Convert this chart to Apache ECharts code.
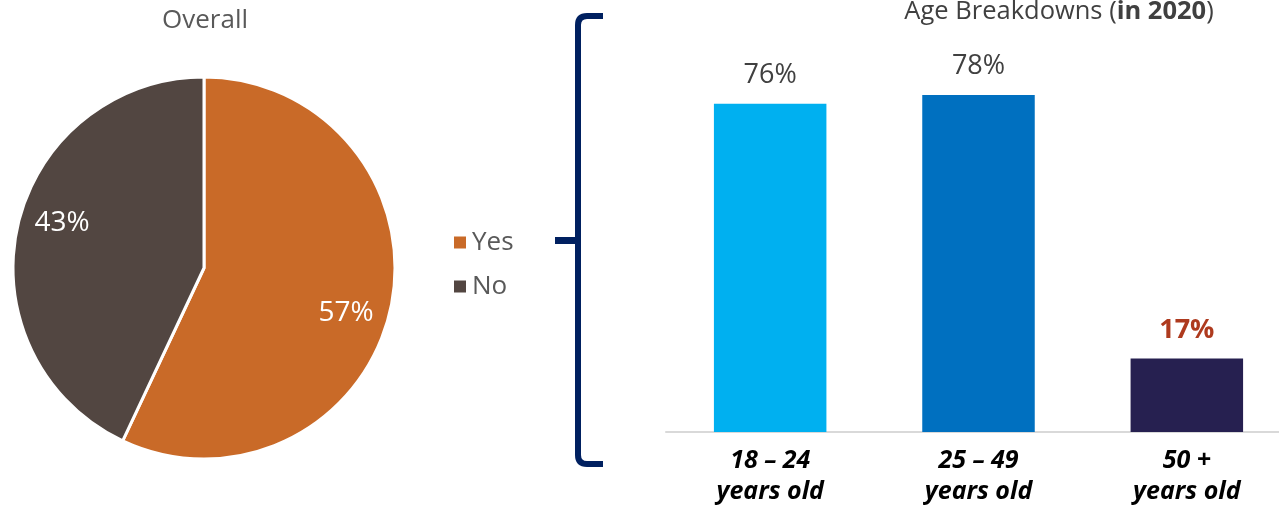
<!DOCTYPE html>
<html>
<head>
<meta charset="utf-8">
<script src="https://cdn.jsdelivr.net/npm/echarts@6/dist/echarts.min.js"></script>
<style>
html,body{margin:0;padding:0;background:#fff;overflow:hidden;width:1279px;height:507px;}
#c{width:1292px;height:507px;}
</style>
</head>
<body>
<div id="c"></div>
<script>
// ---- data ----
const pieNames = ['Yes', 'No'];
const pieValues = [57, 43];
const ageCategories = ['18 – 24\nyears old', '25 – 49\nyears old', '50 +\nyears old'];
const ageValues = [76, 78, 17];
const pieTitle = 'Overall';
const barTitle = 'Age Breakdowns ({b|in 2020})';

// ---- styles ----
const FONT = '"Open Sans", "Noto Sans", sans-serif';
const pieColors = ['#C96A28', '#524641'];
const barColors = ['#00B0F0', '#0070C0', '#262050'];
const navy = '#002060';

const chart = echarts.init(document.getElementById('c'), null, {renderer: 'canvas'});

const pieData = pieNames.map((n, i) => ({name: n, value: pieValues[i], itemStyle: {color: pieColors[i]}}));
const pieLabelData = pieNames.map((n, i) => ({name: n, value: pieValues[i]}));

const barData = ageValues.map((v, i) => {
  const d = {value: v, itemStyle: {color: barColors[i]}};
  if (i === 2) {
    d.label = {color: '#AE3A1E', fontWeight: 'bold'};
  }
  return d;
});

const bracketStyle = {stroke: navy, lineWidth: 6, fill: null, lineCap: 'butt'};

const option = {
  animation: false,
  backgroundColor: '#ffffff',
  textStyle: {fontFamily: FONT},
  title: [
    {
      text: pieTitle, left: 200, top: 3, textAlign: 'center',
      textStyle: {fontFamily: FONT, fontSize: 26, fontWeight: 'normal', color: '#595959'}
    },
    {
      text: barTitle, left: 1054, top: -6, textAlign: 'center',
      textStyle: {
        fontFamily: FONT, fontSize: 25.5, fontWeight: 'normal', color: '#404040',
        rich: {b: {fontFamily: FONT, fontSize: 25.5, fontWeight: 'bold', color: '#404040'}}
      }
    }
  ],
  legend: {
    orient: 'vertical',
    left: 447, top: 224,
    icon: 'rect',
    itemWidth: 14, itemHeight: 14,
    itemGap: 17,
    itemTextGap: 10,
    selectedMode: false,
    data: pieNames.map((n, i) => ({name: n, itemStyle: {color: pieColors[i]}})),
    textStyle: {fontFamily: FONT, fontSize: 26, color: '#595959', lineHeight: 27}
  },
  grid: {left: 666, top: 0, width: 625, height: 435, containLabel: false},
  xAxis: {
    type: 'category',
    data: ageCategories,
    axisLine: {show: true, lineStyle: {color: '#D9D9D9', width: 2}},
    axisTick: {show: false},
    axisLabel: {
      margin: 13, interval: 0,
      fontFamily: FONT, fontSize: 25, fontWeight: 'bold', fontStyle: 'italic',
      color: '#000000', lineHeight: 31
    }
  },
  yAxis: {type: 'value', min: 0, max: 100, show: false, splitLine: {show: false}},
  series: [
    {
      type: 'pie',
      center: [204, 268],
      radius: 191,
      startAngle: 90,
      clockwise: true,
      silent: true,
      label: {show: false},
      labelLine: {show: false},
      itemStyle: {borderColor: '#ffffff', borderWidth: 3},
      data: pieData
    },
    {
      type: 'pie',
      center: [204, 268],
      radius: [101, 191],
      startAngle: 85,
      clockwise: true,
      silent: true,
      itemStyle: {color: 'rgba(0,0,0,0)', borderWidth: 0},
      label: {
        show: true, position: 'inside', formatter: '{c}%',
        fontFamily: FONT, fontSize: 28, color: '#ffffff'
      },
      labelLine: {show: false},
      data: pieLabelData
    },
    {
      type: 'bar',
      barWidth: '54%',
      silent: true,
      data: barData,
      label: {
        show: true, position: 'top', distance: 15, formatter: '{c}%',
        fontFamily: FONT, fontSize: 27, color: '#404040'
      }
    }
  ],
  graphic: [
    {type: 'line', silent: true, shape: {x1: 587, y1: 16, x2: 603, y2: 16}, style: bracketStyle},
    {type: 'bezierCurve', silent: true, shape: {x1: 587, y1: 16, cpx1: 578, cpy1: 16, x2: 578, y2: 25}, style: bracketStyle},
    {type: 'line', silent: true, shape: {x1: 578, y1: 25, x2: 578, y2: 455}, style: bracketStyle},
    {type: 'bezierCurve', silent: true, shape: {x1: 578, y1: 455, cpx1: 578, cpy1: 464, x2: 587, y2: 464}, style: bracketStyle},
    {type: 'line', silent: true, shape: {x1: 587, y1: 464, x2: 603, y2: 464}, style: bracketStyle},
    {type: 'line', silent: true, shape: {x1: 555, y1: 240.5, x2: 578, y2: 240.5}, style: {stroke: navy, lineWidth: 7}}
  ]
};
chart.setOption(option);
</script>
</body>
</html>
